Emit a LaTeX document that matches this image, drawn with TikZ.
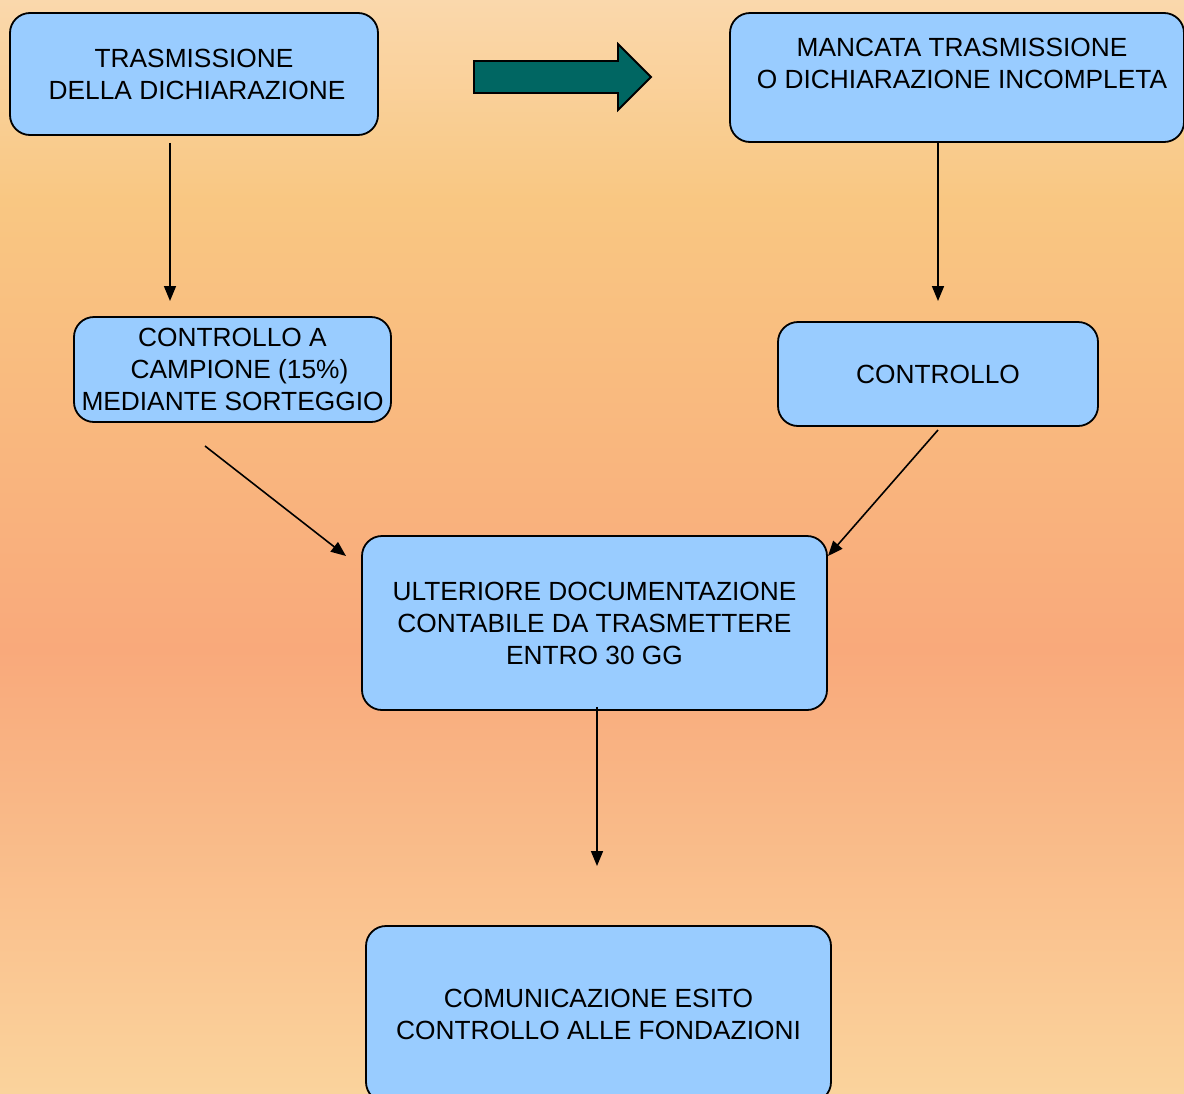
\documentclass[tikz,border=0pt]{standalone}
\usepackage{fontspec}
\setmainfont{Liberation Sans}
\usetikzlibrary{arrows.meta}
\definecolor{bgtop}{RGB}{250,216,172}
\definecolor{bgyel}{RGB}{249,199,130}
\definecolor{bgmid}{RGB}{249,169,123}
\definecolor{bgbot}{RGB}{250,211,156}
\definecolor{boxblue}{RGB}{153,204,255}
\definecolor{teal}{RGB}{0,102,98}
\tikzset{
  stepbox/.style={draw=black, line width=1.8pt, fill=boxblue, rounded corners=20pt,
    inner sep=0pt, align=center, font=\fontsize{26.3}{32}\selectfont},
  link/.style={draw=black, line width=1.6pt, -{Triangle[length=15pt,width=12pt]}},
  lbl/.style={inner sep=0pt, align=center, font=\fontsize{26.3}{32}\selectfont}
}
\begin{document}
\begin{tikzpicture}[x=1pt,y=-1pt]
\useasboundingbox (0,0) rectangle (1184,1093);
\shade[top color=bgtop, bottom color=bgyel] (0,0) rectangle (1184,200);
\shade[top color=bgyel, bottom color=bgmid] (0,199.5) rectangle (1184,650);
\shade[top color=bgmid, bottom color=bgbot] (0,649.5) rectangle (1184,1093);

% boxes
\node[stepbox, minimum width=368pt, minimum height=122pt] (b1) at (194,74) {TRASMISSIONE\\\hspace*{6pt}DELLA DICHIARAZIONE};
\node[stepbox, minimum width=454pt, minimum height=129pt] (b2) at (957,77.5) {};
\node[lbl] (t2) at (962,63) {MANCATA TRASMISSIONE\\O DICHIARAZIONE INCOMPLETA};
\node[stepbox, minimum width=317pt, minimum height=105pt] (b3) at (232.5,369.5) {CONTROLLO A\\\hspace*{14pt}CAMPIONE (15\%)\\MEDIANTE SORTEGGIO};
\node[stepbox, minimum width=320pt, minimum height=104pt] (b4) at (938,374) {CONTROLLO};
\node[stepbox, minimum width=465pt, minimum height=174pt] (b5) at (594.5,623) {ULTERIORE DOCUMENTAZIONE\\CONTABILE DA TRASMETTERE\\ENTRO 30 GG};
\node[stepbox, minimum width=465pt, minimum height=176pt] (b6) at (598.5,1014) {COMUNICAZIONE ESITO\\CONTROLLO ALLE FONDAZIONI};

% big arrow
\draw[fill=teal, line width=1.8pt, line join=miter] (474,61) -- (618,61) -- (618,44) -- (651,77) -- (618,110) -- (618,93) -- (474,93) -- cycle;

% connectors
\coordinate (e1) at (170,301);
\coordinate (e2) at (938,301);
\coordinate (s3) at (205,446);
\coordinate (e3) at (346,556);
\coordinate (s4) at (938,430);
\coordinate (e4) at (828,556);
\coordinate (e5) at (597,866);
\draw[link] (b1.south -| e1) ++(0,7) -- (e1);
\draw[link] (b2.south -| e2) -- (e2);
\draw[link] (s3) -- (e3);
\draw[link] (s4) -- (e4);
\draw[link] (b5.south -| e5) ++(0,-4) -- (e5);
\end{tikzpicture}
\end{document}
